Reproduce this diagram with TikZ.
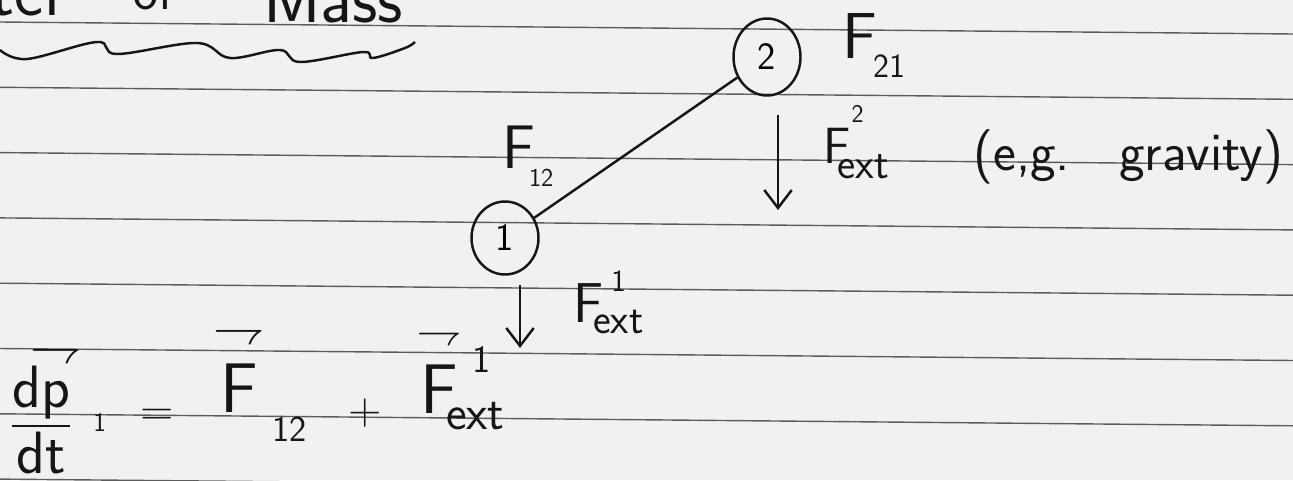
\documentclass[tikz,border=0pt]{standalone}
\usepackage{amsmath,graphicx}
\usetikzlibrary{arrows.meta,positioning,shapes.geometric}
\definecolor{paper}{HTML}{F1F1F1}
\definecolor{ruleline}{HTML}{5C5C5C}
\definecolor{ink}{HTML}{161616}
\renewcommand{\familydefault}{\sfdefault}
\newcommand{\idx}[3]{\raisebox{#1}{\scalebox{#2}{#3}}}
\newcommand{\hvec}[3]{\overset{\makebox[0pt]{\raisebox{#1}{\scalebox{#2}{$\rightharpoondown$}}}}{\text{#3}}}

\begin{document}
\begin{tikzpicture}[x=0.02cm, y=-0.02cm, hand/.style={font=\fontsize{#1}{#1}\selectfont, text=ink, inner sep=0pt, anchor=base west}, ruled/.style={draw=ruleline, line width=0.8pt}, ball/.style={ellipse, draw=ink, line width=1.4pt, inner sep=0pt, minimum width=1.34cm, minimum height=1.46cm, font=\fontsize{22}{22}\selectfont}, rod/.style={draw=ink, line width=1.4pt}, fall/.style={-{Straight Barb[length=3.6mm,width=5.5mm]}, draw=ink, line width=1.4pt}]
\useasboundingbox (0,0) rectangle (1293,480);
\fill[paper] (0,0) rectangle (1293,480);
% ruled paper
\foreach \k in {0,...,7}
  \draw[ruled] (0,{22+65.3*\k}) -- (1293,{34+65.3*\k});
% heading
\node[hand=40, anchor=base east] (cen) at (67,15) {Center};
\node[hand=30] (of) at (133,10) {of};
\node[hand=40] (mass) at (263,22) {Mass};
\draw[ink, line width=1.4pt] plot[smooth, tension=0.6] coordinates {(0,50) (27,59) (97,42) (117,54) (197,43) (230,58) (280,50) (300,62) (363,52) (373,58) (405,48) (415,42)};
% two masses and the rod
\node[ball] (one) at (505,238) {1};
\node[ball, minimum height=1.54cm] (two) at (767,57) {2};
\draw[rod] (one) -- (two);
% external forces
\coordinate (top2) at (778,115); \coordinate (tip2) at (778,210);
\coordinate (top1) at (520,285); \coordinate (tip1) at (520,348);
\draw[fall] (top2) -- (tip2); \draw[fall] (top1) -- (tip1);
\node[hand=35] (f12) at (502,168) {F\kern-0.1em\idx{-0.3em}{0.42}{12}};
\node[hand=37] (f21) at (842,58) {F\kern-0.05em\idx{-0.3em}{0.52}{21}};
\node[hand=29] (f2ext) at (823,163) {F\rlap{\kern0.02em\idx{0.8em}{0.5}{2}}\kern-0.25em\idx{-0.3em}{0.85}{ext}};
\node[hand=32] (f1ext) at (573,322) {F\rlap{\kern0.14em\idx{0.55em}{0.55}{1}}\kern-0.18em\idx{-0.2em}{0.75}{ext}};
\node[hand=31] (eg) at (973,170) {(e,g.\hspace{0.9em}gravity)};
% equation of motion for mass 1
\node[hand=34] (dpdt) at (10,437) {$\dfrac{\text{d}\hvec{0.15em}{1.2}{p}}{\text{dt}}$\kern0.35em\idx{0.1em}{0.45}{1}};
\node[hand=26] (eqs) at (140,425) {=};
\node[hand=40] (vf12) at (220,412) {$\hvec{0.15em}{1.2}{F}$\kern0.21em\idx{-0.42em}{0.52}{12}};
\node[hand=26] (plus) at (348,424) {+};
\node[hand=40] (vf1) at (420,413) {$\hvec{0.15em}{1.05}{F}$\rlap{\kern0.21em\idx{0.57em}{0.55}{1}}\kern-0.17em\idx{-0.24em}{0.7}{ext}};
\end{tikzpicture}
\end{document}
